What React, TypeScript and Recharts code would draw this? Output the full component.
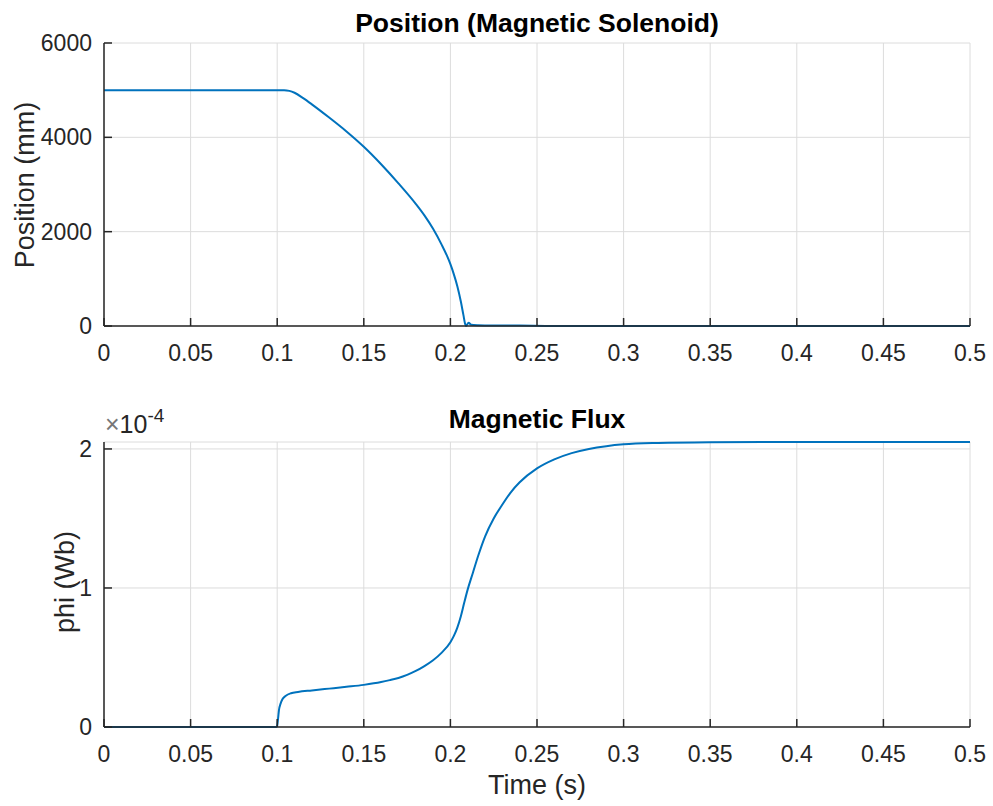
import React from 'react';
import { LineChart, Line, XAxis, YAxis, CartesianGrid } from 'recharts';

// x axis ticks shared by both panels
const timeTicks = [0, 0.05, 0.1, 0.15, 0.2, 0.25, 0.3, 0.35, 0.4, 0.45, 0.5];
const positionTicks = [0, 2000, 4000, 6000];
const fluxTicks = [0, 1, 2];

// top panel: plunger position (mm)
const positionTime = [
  0, 0.05, 0.1, 0.104, 0.107, 0.11, 0.115, 0.12, 0.13, 0.14, 0.15, 0.16, 0.17, 0.18,
  0.185, 0.19, 0.195, 0.198, 0.2, 0.202, 0.204, 0.206, 0.2075, 0.2085, 0.209, 0.2105,
  0.212, 0.216, 0.22, 0.24, 0.26, 0.3, 0.4, 0.5,
];
const positionMm = [
  5000, 5000, 5000, 5000, 4985, 4945, 4830, 4700, 4420, 4125, 3800, 3430, 3025, 2590,
  2345, 2060, 1720, 1490, 1310, 1095, 845, 525, 235, 45, 0, 70,
  25, 15, 12, 8, 0, 0, 0, 0,
];

// bottom panel: magnetic flux, in units of 1e-4 Wb
const fluxTime = [
  0, 0.05, 0.0995, 0.1, 0.1005, 0.101, 0.102, 0.103, 0.105, 0.108, 0.112, 0.12, 0.13,
  0.14, 0.15, 0.16, 0.165, 0.17, 0.175, 0.18, 0.185, 0.19, 0.195, 0.2, 0.202, 0.204,
  0.206, 0.208, 0.21, 0.213, 0.216, 0.22, 0.225, 0.23, 0.235, 0.24, 0.25, 0.26, 0.27,
  0.28, 0.29, 0.3, 0.32, 0.35, 0.4, 0.45, 0.5,
];
const fluxWb = [
  0, 0, 0, 0.01, 0.06, 0.12, 0.17, 0.2, 0.225, 0.243, 0.252, 0.263, 0.276,
  0.289, 0.303, 0.323, 0.337, 0.353, 0.375, 0.403, 0.438, 0.48, 0.535, 0.61, 0.655, 0.715,
  0.795, 0.895, 0.99, 1.11, 1.23, 1.37, 1.5, 1.6, 1.69, 1.76, 1.86, 1.925, 1.97,
  2.0, 2.02, 2.033, 2.043, 2.048, 2.05, 2.05, 2.05,
];

const positionData = positionTime.map((t, i) => ({ t, v: positionMm[i] }));
const fluxData = fluxTime.map((t, i) => ({ t, v: fluxWb[i] }));

const FONT = "'Liberation Sans', Arial, Helvetica, sans-serif";
const AXIS = '#262626';
const GRID = '#dcdcdc';
const BLUE = '#0072BD';

const tickStyle = { fontSize: 23, fill: AXIS, fontFamily: FONT };
const axisLine = { stroke: AXIS, strokeWidth: 1.5 };
const tickLine = { stroke: AXIS, strokeWidth: 1.5 };

function Panel({ data, yTicks, yDomain, height, marginTop, xAxisHeight }: any) {
  return (
    <LineChart
      width={993}
      height={height}
      data={data}
      margin={{ top: marginTop, right: 23, left: 0, bottom: 0 }}
    >
      <CartesianGrid stroke={GRID} strokeWidth={1} vertical horizontal />
      <XAxis
        dataKey="t"
        type="number"
        domain={[0, 0.5]}
        ticks={timeTicks}
        height={xAxisHeight}
        tickSize={-8}
        tickMargin={27}
        tick={tickStyle}
        axisLine={axisLine}
        tickLine={tickLine}
        tickFormatter={(v: number) => String(v)}
      />
      <XAxis
        xAxisId="top"
        orientation="top"
        type="number"
        domain={[0, 0.5]}
        ticks={timeTicks}
        allowDataOverflow
        height={0}
        tickSize={-8}
        axisLine={axisLine}
        tickLine={tickLine}
        tickFormatter={() => ''}
      />
      <YAxis
        type="number"
        domain={yDomain}
        ticks={yTicks}
        width={104}
        tickSize={-8}
        tickMargin={20}
        tick={tickStyle}
        axisLine={axisLine}
        tickLine={tickLine}
        tickFormatter={(v: number) => String(v)}
      />
      <YAxis
        yAxisId="right"
        orientation="right"
        type="number"
        domain={yDomain}
        ticks={yTicks}
        allowDataOverflow
        width={0}
        tickSize={-8}
        axisLine={axisLine}
        tickLine={tickLine}
        tickFormatter={() => ''}
      />
      <Line
        type="monotone"
        dataKey="v"
        stroke={BLUE}
        strokeWidth={2}
        dot={false}
        isAnimationActive={false}
      />
    </LineChart>
  );
}

const abs = (extra: React.CSSProperties): React.CSSProperties => ({
  position: 'absolute',
  fontFamily: FONT,
  color: AXIS,
  lineHeight: 1,
  whiteSpace: 'nowrap',
  ...extra,
});

export default function App() {
  return (
    <div style={{ position: 'absolute', left: 0, top: 0, width: 993, height: 806, background: '#fff' }}>
      <div style={{ position: 'absolute', left: 0, top: 0 }}>
        <Panel data={positionData} yTicks={positionTicks} yDomain={[0, 6000]} height={400} marginTop={43} xAxisHeight={74} />
      </div>
      <div style={{ position: 'absolute', left: 0, top: 400 }}>
        <Panel data={fluxData} yTicks={fluxTicks} yDomain={[0, 2.05]} height={406} marginTop={42} xAxisHeight={79} />
      </div>

      <div style={abs({ left: 537, top: 10, transform: 'translateX(-50%)', fontSize: 26.5, fontWeight: 'bold', color: '#000' })}>
        Position (Magnetic Solenoid)
      </div>
      <div style={abs({ left: 537, top: 406, transform: 'translateX(-50%)', fontSize: 26.5, fontWeight: 'bold', color: '#000' })}>
        Magnetic Flux
      </div>
      <div style={abs({ left: 25, top: 185, transform: 'translate(-50%, -50%) rotate(-90deg)', fontSize: 27 })}>
        Position (mm)
      </div>
      <div style={abs({ left: 65, top: 582, transform: 'translate(-50%, -50%) rotate(-90deg)', fontSize: 27 })}>
        phi (Wb)
      </div>
      <div style={abs({ left: 537, top: 772, transform: 'translateX(-50%)', fontSize: 27 })}>
        Time (s)
      </div>
      <div style={abs({ left: 105, top: 412, fontSize: 25 })}>
        <span style={{ color: '#777' }}>×</span>10
        <span style={{ fontSize: 19, position: 'relative', top: -11 }}>-4</span>
      </div>
    </div>
  );
}
